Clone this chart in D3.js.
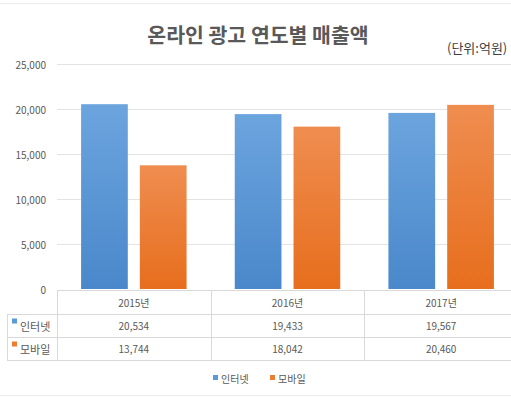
<!DOCTYPE html>
<head>
    <meta charset="utf-8">
    <script src="https://d3js.org/d3.v7.min.js"></script>
</head>
<style>
body {
  margin: 0;
  background: #fff;
  font-family: "Noto Sans CJK KR", "Noto Sans", sans-serif;
}
</style>
<body>
    <svg></svg>
</body>

<script>
    // data
    var years = ["2015년", "2016년", "2017년"];
    var seriesNames = ["인터넷", "모바일"];
    var internet = [20534, 19433, 19567];
    var mobile = [13744, 18042, 20460];
    var yTicks = [0, 5000, 10000, 15000, 20000, 25000];

    var seriesValues = [internet, mobile];
    var seriesColors = [["#6ca4de", "#4a88cb"], ["#ef8d50", "#e76e1d"]];
    var solidColors = ["#5b9bd5", "#ed7d31"];

    var width = 511, height = 397;
    // note: "top" is taken by window.top, so plot* names
    var plotLeft = 57, plotRight = 518, plotTop = 64, plotBottom = 289;
    var textColor = "#595959", lineColor = "#d9d9d9";

    var svg = d3.select("svg")
        .attr("width", width)
        .attr("height", height);

    // gradients for bars
    var defs = svg.append("defs");
    seriesColors.forEach(function (c, i) {
        var lg = defs.append("linearGradient")
            .attr("id", "grad" + i)
            .attr("x1", 0).attr("y1", 0).attr("x2", 0).attr("y2", 1);
        lg.append("stop").attr("offset", "0%").attr("stop-color", c[0]);
        lg.append("stop").attr("offset", "100%").attr("stop-color", c[1]);
    });

    // faint frame lines
    svg.append("line").attr("x1", 0).attr("x2", width).attr("y1", 3.5).attr("y2", 3.5)
        .style("stroke", "#ececec");
    svg.append("line").attr("x1", 0).attr("x2", width).attr("y1", 395.5).attr("y2", 395.5)
        .style("stroke", "#ececec");

    // scales
    var x0 = d3.scaleBand().domain(years).range([plotLeft, plotRight]).padding(0);
    var x1 = d3.scaleBand().domain(seriesNames).range([0, x0.bandwidth()])
        .paddingInner(0.205).paddingOuter(0.41);
    var y = d3.scaleLinear().domain([0, 25000]).range([plotBottom, plotTop]);

    // title
    svg.append("text")
        .attr("x", 258).attr("y", 34)
        .attr("text-anchor", "middle")
        .attr("dominant-baseline", "central")
        .style("font-size", "20.5px")
        .style("font-weight", "600")
        .style("fill", textColor)
        .text("온라인 광고 연도별 매출액");

    svg.append("text")
        .attr("x", 447).attr("y", 47)
        .attr("dominant-baseline", "central")
        .style("font-size", "13px")
        .style("fill", "#404040")
        .text("(단위:억원)");

    // gridlines and y ticks
    var fmt = d3.format(",");
    svg.append("g").selectAll("line")
        .data(yTicks.filter(function (d) { return d > 0; }))
        .enter().append("line")
        .attr("x1", plotLeft).attr("x2", plotRight)
        .attr("y1", function (d) { return Math.round(y(d)) + 0.5; })
        .attr("y2", function (d) { return Math.round(y(d)) + 0.5; })
        .style("stroke", "#e3e3e3");

    svg.append("g").selectAll("text")
        .data(yTicks)
        .enter().append("text")
        .attr("x", 46)
        .attr("y", function (d) { return y(d); })
        .attr("text-anchor", "end")
        .attr("dominant-baseline", "central")
        .style("font-size", "10px")
        .style("fill", textColor)
        .text(function (d) { return fmt(d); });

    // bars
    var groups = svg.append("g").selectAll("g")
        .data(years)
        .enter().append("g")
        .attr("transform", function (d) { return "translate(" + x0(d) + ",0)"; });

    groups.selectAll("rect")
        .data(function (d, i) {
            return seriesNames.map(function (s, j) { return {s: s, j: j, v: seriesValues[j][i]}; });
        })
        .enter().append("rect")
        .attr("x", function (d) { return x1(d.s); })
        .attr("width", x1.bandwidth())
        .attr("y", function (d) { return y(d.v); })
        .attr("height", function (d) { return y(0) - y(d.v); })
        .style("fill", function (d) { return "url(#grad" + d.j + ")"; });

    // data table
    var tTop = 290, rowH = [24, 23, 23];
    var rowY = [tTop, tTop + rowH[0], tTop + rowH[0] + rowH[1], tTop + rowH[0] + rowH[1] + rowH[2]];
    var table = svg.append("g");

    table.append("line").attr("x1", plotLeft).attr("x2", plotRight)
        .attr("y1", rowY[0] + 0.5).attr("y2", rowY[0] + 0.5).style("stroke", lineColor);
    [1, 2, 3].forEach(function (r) {
        table.append("line").attr("x1", 7).attr("x2", plotRight)
            .attr("y1", rowY[r] + 0.5).attr("y2", rowY[r] + 0.5).style("stroke", lineColor);
    });
    table.append("line").attr("x1", 7.5).attr("x2", 7.5)
        .attr("y1", rowY[1]).attr("y2", rowY[3]).style("stroke", lineColor);
    table.selectAll(".vline")
        .data(years)
        .enter().append("line")
        .attr("x1", function (d) { return Math.round(x0(d)) + 0.5; })
        .attr("x2", function (d) { return Math.round(x0(d)) + 0.5; })
        .attr("y1", rowY[0]).attr("y2", rowY[3])
        .style("stroke", lineColor);

    table.selectAll(".yr")
        .data(years)
        .enter().append("text")
        .attr("x", function (d) { return x0(d) + x0.bandwidth() / 2; })
        .attr("y", (rowY[0] + rowY[1]) / 2)
        .attr("text-anchor", "middle")
        .attr("dominant-baseline", "central")
        .style("font-size", "10px")
        .style("fill", textColor)
        .text(function (d) { return d; });

    seriesNames.forEach(function (s, j) {
        var cy = (rowY[j + 1] + rowY[j + 2]) / 2;
        table.append("rect")
            .attr("x", 12).attr("y", cy - 7).attr("width", 5).attr("height", 5)
            .style("fill", solidColors[j]);
        table.append("text")
            .attr("x", 20).attr("y", cy)
            .attr("dominant-baseline", "central")
            .style("font-size", "11px")
            .style("fill", textColor)
            .text(s);
        table.selectAll(".v" + j)
            .data(seriesValues[j])
            .enter().append("text")
            .attr("x", function (d, i) { return x0(years[i]) + x0.bandwidth() / 2; })
            .attr("y", cy)
            .attr("text-anchor", "middle")
            .attr("dominant-baseline", "central")
            .style("font-size", "10px")
            .style("fill", textColor)
            .text(function (d) { return fmt(d); });
    });

    // legend
    var legendX = [213, 270];
    var legend = svg.append("g").selectAll("g")
        .data(seriesNames)
        .enter().append("g")
        .attr("transform", function (d, i) { return "translate(" + legendX[i] + ",378)"; });
    legend.append("rect")
        .attr("x", 0).attr("y", -3).attr("width", 5).attr("height", 5)
        .style("fill", function (d, i) { return solidColors[i]; });
    legend.append("text")
        .attr("x", 8).attr("y", 0)
        .attr("dominant-baseline", "central")
        .style("font-size", "10px")
        .style("fill", textColor)
        .text(function (d) { return d; });
</script>
